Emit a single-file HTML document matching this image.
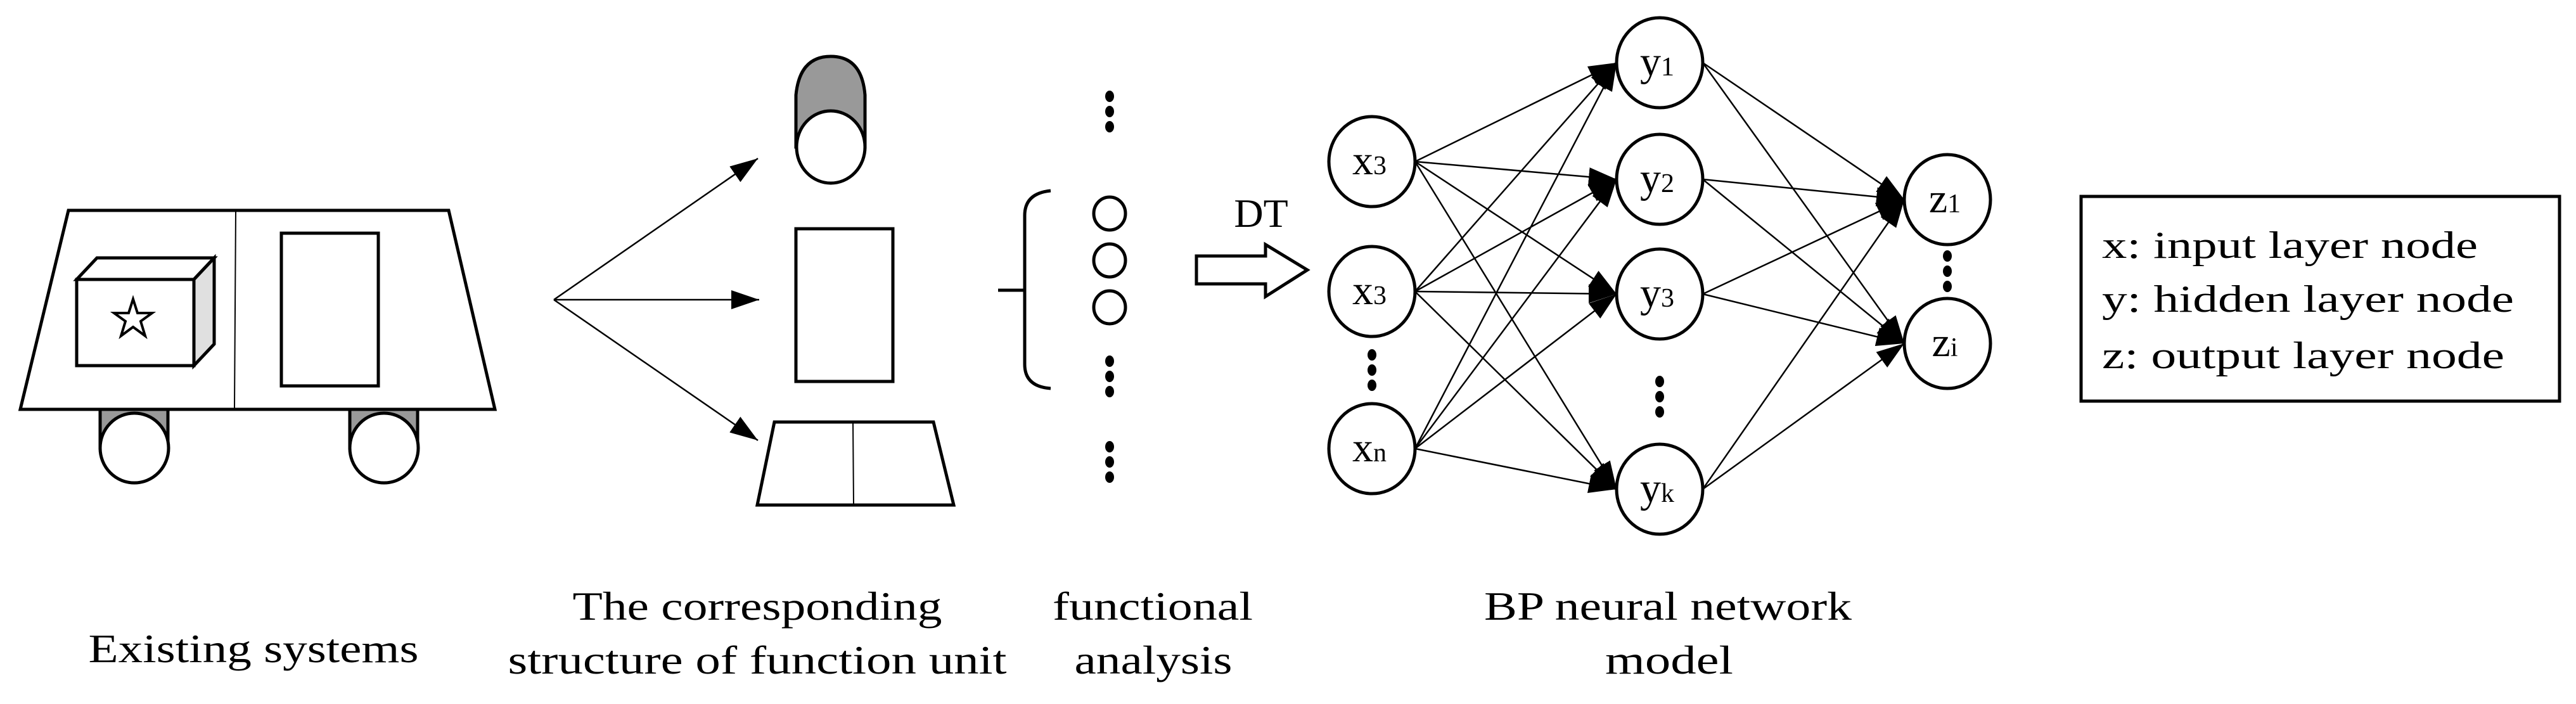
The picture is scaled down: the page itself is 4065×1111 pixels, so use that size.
<!DOCTYPE html>
<html><head><meta charset="utf-8"><style>
html,body{margin:0;padding:0;background:#fff;}
svg{display:block;}
text{font-family:"Liberation Serif",serif;fill:#000;}
</style></head><body>
<svg id="s" width="4065" height="1111" viewBox="0 0 4065 1111" xmlns="http://www.w3.org/2000/svg">
<defs>
<marker id="ah" viewBox="0 0 44 30" refX="44" refY="15" markerWidth="44" markerHeight="30" markerUnits="userSpaceOnUse" orient="auto">
<path d="M0,0 L44,15 L0,30 Z" fill="#000"/>
</marker>
</defs>
<g stroke="#000" stroke-width="5" fill="none">
<rect x="158" y="646" width="107" height="61" fill="#999"/>
<rect x="552" y="646" width="107" height="61" fill="#999"/>
<ellipse cx="212" cy="707" rx="54" ry="55" fill="#fff"/>
<ellipse cx="606" cy="707" rx="54" ry="55" fill="#fff"/>
<path d="M108,332 L708,332 L781,646 L32,646 Z" fill="#fff"/>
<line x1="372" y1="332" x2="370" y2="646" stroke-width="2"/>
<path d="M121,441 L153,407 L338,407 L306,441 Z" fill="#fff"/>
<path d="M306,441 L338,407 L338,543 L306,577 Z" fill="#e0e0e0"/>
<rect x="121" y="441" width="185" height="136" fill="#fff"/>
<path d="M210,472 L217,494 L240,494 L222,507 L229,530 L210,516 L191,530 L198,507 L180,494 L203,494 Z" stroke-width="4"/>
<rect x="444" y="368" width="153" height="241"/>
<g stroke-width="2.5">
<line x1="874" y1="473" x2="1196" y2="250" marker-end="url(#ah)"/>
<line x1="874" y1="473" x2="1198" y2="473" marker-end="url(#ah)"/>
<line x1="874" y1="473" x2="1196" y2="695" marker-end="url(#ah)"/>
</g>
<path d="M1256,232 L1256,150 Q1262,89 1311,89 Q1360,89 1365,150 L1365,232 Z" fill="#999"/>
<ellipse cx="1311" cy="232" rx="54" ry="57" fill="#fff"/>
<rect x="1256" y="361" width="153" height="241"/>
<path d="M1222,666 L1473,666 L1505,797 L1195,797 Z"/>
<line x1="1346" y1="666" x2="1347" y2="797" stroke-width="2"/>
<path d="M1658,301 Q1617,305 1617,340 L1617,575 Q1617,610 1658,613"/>
<line x1="1575" y1="458" x2="1617" y2="458"/>
<ellipse cx="1751" cy="337" rx="25" ry="26"/>
<ellipse cx="1751" cy="411" rx="25" ry="26"/>
<ellipse cx="1751" cy="485" rx="25" ry="26"/>
<path d="M1888,404 L1997,404 L1997,386 L2063,426 L1997,468 L1997,448 L1888,448 Z"/>
<rect x="3284" y="310" width="755" height="323"/>
</g>
<g fill="#000" id="dots"></g>
<g id="net" stroke="#000" stroke-width="2.5" fill="none"></g>
<g id="nodes"></g>
<text x="1990" y="358" font-size="64" text-anchor="middle">DT</text>
<g font-size="60">
<text x="3317" y="407" textLength="593" lengthAdjust="spacingAndGlyphs">x: input layer node</text>
<text x="3317" y="492" textLength="650" lengthAdjust="spacingAndGlyphs">y: hidden layer node</text>
<text x="3317" y="581" textLength="635" lengthAdjust="spacingAndGlyphs">z: output layer node</text>
</g>
<g font-size="64" text-anchor="middle">
<text x="400" y="1045" textLength="521" lengthAdjust="spacingAndGlyphs">Existing systems</text>
<text x="1195" y="978" textLength="583" lengthAdjust="spacingAndGlyphs">The corresponding</text>
<text x="1195" y="1063" textLength="787" lengthAdjust="spacingAndGlyphs">structure of function unit</text>
<text x="1819" y="978" textLength="316" lengthAdjust="spacingAndGlyphs">functional</text>
<text x="1820" y="1063" textLength="249" lengthAdjust="spacingAndGlyphs">analysis</text>
<text x="2632" y="978" textLength="580" lengthAdjust="spacingAndGlyphs">BP neural network</text>
<text x="2634" y="1063" textLength="202" lengthAdjust="spacingAndGlyphs">model</text>
</g>
</svg>
<script>
var NS="http://www.w3.org/2000/svg";
function el(t,a,p){var e=document.createElementNS(NS,t);for(var k in a)e.setAttribute(k,a[k]);document.getElementById(p).appendChild(e);return e;}
[[1751,152],[1751,570],[1751,705],[2165,560],[2619,602],[3073,404]].forEach(function(d){
 for(var i=0;i<3;i++)el("ellipse",{cx:d[0],cy:d[1]+i*24,rx:7,ry:9},"dots");
});
var RX=68,RY=71;
var X=[[2165,255,"x","3"],[2165,460,"x","3"],[2165,708,"x","n"]];
var Y=[[2619,99,"y","1"],[2619,283,"y","2"],[2619,464,"y","3"],[2619,772,"y","k"]];
var Z=[[3073,315,"z","1"],[3073,542,"z","i"]];
X.forEach(function(a){Y.forEach(function(b){
 el("line",{x1:a[0]+RX,y1:a[1],x2:b[0]-RX,y2:b[1],"marker-end":"url(#ah)"},"net");});});
Y.forEach(function(a){Z.forEach(function(b){
 el("line",{x1:a[0]+RX,y1:a[1],x2:b[0]-RX,y2:b[1],"marker-end":"url(#ah)"},"net");});});
X.concat(Y,Z).forEach(function(n){
 el("ellipse",{cx:n[0],cy:n[1],rx:RX,ry:RY,fill:"#fff",stroke:"#000","stroke-width":5},"nodes");
 var t=el("text",{x:n[0]-4,y:n[1]+20,"text-anchor":"middle","font-size":66},"nodes");
 var s1=document.createElementNS(NS,"tspan");s1.textContent=n[2];t.appendChild(s1);
 var s2=document.createElementNS(NS,"tspan");s2.setAttribute("font-size","42");s2.textContent=n[3];t.appendChild(s2);
});
</script>
</body></html>
